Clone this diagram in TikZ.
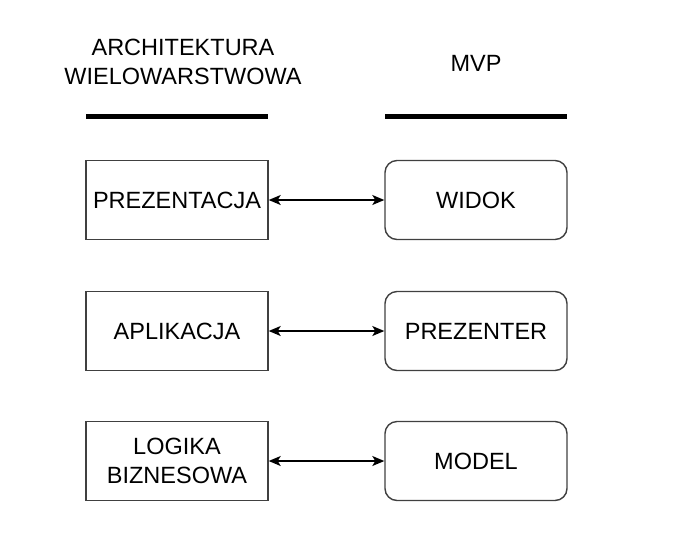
\documentclass[tikz,border=0pt]{standalone}
\usepackage{fontspec}
\setmainfont{Liberation Sans}
\usetikzlibrary{arrows.meta}
\begin{document}
\begin{tikzpicture}[x=1pt,y=-1pt,
  txt/.style={font=\fontsize{23.5}{29}\selectfont, align=center, text=black},
  lbox/.style={draw=black!75, line width=1.4pt, minimum width=182pt, minimum height=79pt, inner sep=0pt, txt},
  rbox/.style={lbox, rounded corners=12pt},
  bar/.style={line width=5pt, black},
  link/.style={line width=1.3pt, {Stealth[length=12pt,width=10pt,inset=3pt]}-{Stealth[length=12pt,width=10pt,inset=3pt]}}
]
\useasboundingbox (0,0) rectangle (688,558);
\node[txt] (h1) at (183,62) {ARCHITEKTURA\\WIELOWARSTWOWA};
\node[txt] (h2) at (476,63) {MVP};
\coordinate (b1a) at (86,116); \coordinate (b1b) at (268,116);
\coordinate (b2a) at (385,116); \coordinate (b2b) at (567,116);
\draw[bar] (b1a) -- (b1b);
\draw[bar] (b2a) -- (b2b);
\node[lbox] (l1) at (177,200) {PREZENTACJA};
\node[lbox] (l2) at (177,331) {APLIKACJA};
\node[lbox] (l3) at (177,461) {LOGIKA\\BIZNESOWA};
\node[rbox] (r1) at (476,200) {WIDOK};
\node[rbox] (r2) at (476,331) {PREZENTER};
\node[rbox] (r3) at (476,461) {MODEL};
\draw[link] (l1) -- (r1);
\draw[link] (l2) -- (r2);
\draw[link] (l3) -- (r3);
\end{tikzpicture}
\end{document}
